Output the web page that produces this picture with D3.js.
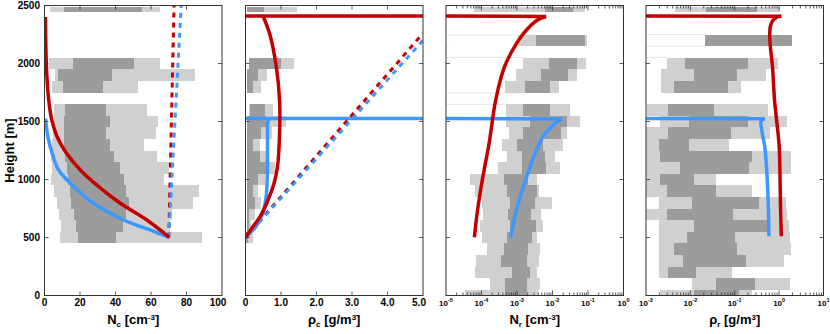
<!DOCTYPE html>
<html>
<head>
<meta charset="utf-8">
<title>Cloud profiles</title>
<script src="https://cdn.jsdelivr.net/npm/d3@7"></script>
<style>
  body { margin: 0; background: #fff; }
  text { font-family: "Liberation Sans", Arial, Helvetica, sans-serif; font-weight: bold; fill: #000; }
</style>
</head>
<body>
<svg width="830" height="334" id="mainsvg"></svg>
<script>
// rows: [bottom m, top m, light low, dark low, dark high, light high]
const ncRows = [
  [2440, 2490, 3, 11, 55, 65],
  [1950, 2050, 2.5, 16, 50.5, 65],
  [1850, 1950, 6, 7.5, 38, 85],
  [1750, 1850, 4.3, 10.3, 33, 52.4],
  [1550, 1650, 5.5, 11.8, 34.8, 57.7],
  [1450, 1550, 5.5, 10.8, 37, 63.7],
  [1350, 1450, 5, 10.8, 34.8, 62.7],
  [1250, 1350, 4, 11, 37, 56.2],
  [1150, 1250, 3.5, 11.8, 39.3, 63.3],
  [1050, 1150, 4.5, 12.4, 42.3, 69.9],
  [950, 1050, 3.4, 13, 44.9, 67.4],
  [850, 950, 5.6, 14.6, 45.7, 87.3],
  [750, 850, 7.2, 15.2, 47.8, 83.5],
  [650, 750, 8, 16.9, 46, 71.7],
  [550, 650, 9.4, 18, 44, 70.8],
  [450, 550, 8.8, 18.7, 40, 88.6]
];
const rhocRows = [
  [2440, 2490, 0.05, 0.05, 0.52, 1.46],
  [1950, 2050, 0.085, 0.085, 0.99, 1.37],
  [1850, 1950, 0.04, 0.04, 0.35, 0.61],
  [1750, 1850, 0.04, 0.04, 0.21, 0.44],
  [1550, 1650, 0.1, 0.13, 0.56, 0.78],
  [1450, 1550, 0.04, 0.04, 0.59, 1.15],
  [1350, 1450, 0.04, 0.04, 0.45, 0.75],
  [1250, 1350, 0.04, 0.04, 0.21, 0.4],
  [1150, 1250, 0.04, 0.04, 0.4, 0.6],
  [1050, 1150, 0.04, 0.04, 0.59, 0.82],
  [950, 1050, 0.04, 0.04, 0.35, 0.55],
  [850, 950, 0.04, 0.04, 0.21, 0.35],
  [750, 850, 0.04, 0.04, 0.27, 0.44],
  [650, 750, 0.04, 0.04, 0.11, 0.28],
  [550, 650, 0.04, 0.04, 0.09, 0.16],
  [450, 550, 0.0, 0.0, 0.07, 0.2]
];
const nrRows = [
  [2440, 2490, 6.3e-5, 6.2e-3, 3.9e-2, 8.3e-2],
  [2150, 2250, 1.1e-3, 3.5e-3, 8.3e-2, 9.3e-2],
  [1950, 2050, 1.5e-3, 7.9e-3, 4.8e-2, 8.7e-2],
  [1850, 1950, 9.3e-4, 4.8e-3, 2.8e-2, 5.0e-2],
  [1750, 1850, 4.6e-4, 1.7e-3, 8.5e-3, 1.55e-2],
  [1550, 1650, 4.8e-4, 1.45e-3, 8.5e-3, 3.2e-2],
  [1450, 1550, 4.8e-4, 2.3e-3, 2.5e-2, 5.8e-2],
  [1350, 1450, 5.8e-4, 1.5e-3, 1.7e-2, 2.6e-2],
  [1250, 1350, 3.9e-4, 9.8e-4, 5.5e-3, 1.95e-2],
  [1150, 1250, 5.1e-4, 1.35e-3, 6.2e-3, 1.2e-2],
  [1050, 1150, 3.0e-4, 1.35e-3, 6.6e-3, 1.6e-2],
  [950, 1050, 4.8e-5, 4.2e-4, 2.1e-3, 3.6e-3],
  [850, 950, 6.6e-5, 5.1e-4, 3.6e-3, 4.3e-3],
  [750, 850, 1.0e-4, 6.3e-4, 3.2e-3, 9.5e-3],
  [650, 750, 1.1e-4, 5.6e-4, 2.5e-3, 4.7e-3],
  [550, 650, 9e-5, 6.3e-4, 3.5e-3, 5.5e-3],
  [450, 550, 1.0e-4, 5.1e-4, 2.6e-3, 3.6e-3],
  [350, 450, 1.4e-4, 4.4e-4, 2.1e-3, 4.5e-3],
  [250, 350, 7.2e-5, 3.5e-4, 1.95e-3, 4.3e-3],
  [150, 250, 6.6e-5, 7.1e-4, 2.3e-3, 3.6e-3],
  [50, 150, 1.7e-4, 4.6e-4, 1.9e-3, 4.5e-3],
  [0, 50, 3.5e-5, 4.6e-4, 1.9e-3, 4.0e-3]
];
const rhorRows = [
  [2440, 2490, 4.4e-3, 2.3e-2, 0.31, 1.07],
  [2150, 2250, 2.1e-2, 2.1e-2, 1.95, 1.95],
  [1950, 2050, 2.9e-3, 7.4e-3, 0.2, 0.93],
  [1850, 1950, 2.2e-3, 1.2e-2, 0.11, 0.5],
  [1750, 1850, 2.2e-3, 4.2e-3, 0.071, 0.135],
  [1550, 1650, 1.05e-3, 3.1e-3, 0.034, 0.56],
  [1450, 1550, 2.1e-3, 9.1e-3, 0.195, 1.5],
  [1350, 1450, 1e-3, 3.1e-3, 0.081, 0.63],
  [1250, 1350, 1e-3, 2e-3, 9.1e-3, 0.076],
  [1150, 1250, 1e-3, 2.1e-3, 0.25, 1.86],
  [1050, 1150, 1e-3, 5.9e-3, 0.21, 1.86],
  [950, 1050, 1e-3, 2.1e-3, 0.012, 0.038],
  [850, 950, 1e-3, 3e-3, 0.038, 0.25],
  [750, 850, 2e-3, 0.011, 0.36, 1.45],
  [650, 750, 1e-3, 2.9e-3, 0.093, 1.5],
  [550, 650, 2e-3, 0.012, 0.56, 1.66],
  [450, 550, 2e-3, 8.3e-3, 0.1, 1.78],
  [350, 450, 2e-3, 4.2e-3, 0.11, 1.82],
  [250, 350, 2e-3, 6.9e-3, 0.18, 1.32],
  [150, 250, 2e-3, 3.1e-3, 0.0135, 0.085],
  [50, 150, 0.011, 0.038, 0.28, 1.78],
  [0, 50, 2.1e-3, 0.012, 0.126, 0.25]
];
// faint edge lines: [height m, right end value]
const nrFaint = [[2245, 1.1e-3], [2145, 1.2e-5], [2052, 1.5e-3], [1745, 4.6e-4], [1648, 4.8e-4]];
const rhorFaint = [[2250, 2.1e-2], [2150, 2.1e-2], [2052, 2.9e-3]];

// profiles: [value, height m]
const ncRed = [[70.4, 500], [57.7, 651], [42.7, 795], [30.5, 938], [20.2, 1082], [12.4, 1226], [7.1, 1369], [4.1, 1513], [2.4, 1681], [1.1, 1968], [0.7, 2200], [0.5, 2400]];
const ncBlue = [[70.4, 500], [59.5, 565], [44.6, 651], [27.7, 795], [16.5, 938], [8, 1082], [4.3, 1226], [1.9, 1369], [0.8, 1490], [0.6, 1525]];
const ncRedDash = [[70, 500], [73, 2500]];
const ncBlueDash = [[70, 500], [77, 2500]];

const rhocRed = [[0, 500], [0.07, 532], [0.2, 589], [0.4, 675], [0.63, 819], [0.8, 963], [0.9, 1106], [0.96, 1394], [0.96, 1681], [0.87, 1968], [0.68, 2256], [0.49, 2412]];
const rhocBlue = [[0, 500], [0.1, 532], [0.28, 589], [0.48, 700], [0.58, 850], [0.61, 1000], [0.62, 1200], [0.62, 1400], [0.63, 1500], [0.68, 1528]];
const rhocRedDash = [[0, 500], [5, 2260]];
const rhocBlueDash = [[0, 500], [5, 2200]];

const nrRed = [[6.3e-5, 502], [7.6e-5, 718], [1.07e-4, 1006], [1.6e-4, 1293], [1.8e-4, 1394], [2.5e-4, 1681], [4.4e-4, 1968], [7.4e-4, 2112], [1.5e-3, 2256], [3.6e-3, 2371], [6.6e-3, 2405]];
const nrBlue = [[6.6e-4, 502], [9.3e-4, 718], [1.26e-3, 862], [1.8e-3, 1006], [2.6e-3, 1150], [4e-3, 1293], [5.6e-3, 1380], [8.9e-3, 1450], [1.3e-2, 1495], [1.8e-2, 1522]];

const rhorRed = [[1.12, 511], [1.07, 800], [1.05, 1000], [1.0, 1293], [0.79, 1681], [0.71, 1968], [0.62, 2198], [0.63, 2313], [0.72, 2371], [0.89, 2400], [1.12, 2408]];
const rhorBlue = [[0.59, 511], [0.56, 868], [0.51, 1150], [0.47, 1293], [0.42, 1394], [0.39, 1500], [0.42, 1515], [0.48, 1523]];

const redTop = 2410;
const blueTop = 1526;

const heightTicks = [0, 500, 1000, 1500, 2000, 2500];
const ncTicks = [0, 20, 40, 60, 80, 100];
const rhocTicks = [0, 1, 2, 3, 4, 5];
const nrTicks = [1e-5, 1e-4, 1e-3, 1e-2, 1e-1, 1];
const rhorTicks = [1e-3, 1e-2, 1e-1, 1, 10];

const RED = '#c30000', BLUE = '#3a98ff', LIGHT = '#d0d0d0', DARK = '#9c9c9c';

const svg = d3.select('#mainsvg');
const yTop = 5.5, yBottom = 295.5, pw = 177.5;
const y = d3.scaleLinear().domain([0, 2500]).range([yBottom, yTop]);

const panels = [
  { x0: 44.5, scale: d3.scaleLinear().domain([0, 100]), ticks: ncTicks, fmt: d => d, rows: ncRows,
    red: ncRed, blue: ncBlue, redDash: ncRedDash, blueDash: ncBlueDash, topSpan: 'none',
    title: [['N'], ['c', 'sub'], [' [cm'], ['-3', 'sup'], [']']] },
  { x0: 245.5, scale: d3.scaleLinear().domain([0, 5]), ticks: rhocTicks, fmt: d => d === 0 ? '0' : d3.format('.1f')(d), rows: rhocRows,
    red: rhocRed, blue: rhocBlue, redDash: rhocRedDash, blueDash: rhocBlueDash, topSpan: 'full',
    title: [['ρ'], ['c', 'sub'], [' [g/m'], ['3', 'sup'], [']']] },
  { x0: 446, scale: d3.scaleLog().domain([1e-5, 1]), ticks: nrTicks, log: true, rows: nrRows, faint: nrFaint,
    red: nrRed, blue: nrBlue, topSpan: 'left',
    title: [['N'], ['r', 'sub'], [' [cm'], ['-3', 'sup'], [']']] },
  { x0: 646, scale: d3.scaleLog().domain([1e-3, 10]), ticks: rhorTicks, log: true, rows: rhorRows, faint: rhorFaint,
    red: rhorRed, blue: rhorBlue, topSpan: 'left',
    title: [['ρ'], ['r', 'sub'], [' [g/m'], ['3', 'sup'], [']']] }
];

function richText(sel, parts, big, small, up) {
  let shift = 0;
  parts.forEach(([t, kind]) => {
    const target = kind === 'sub' ? 3 : kind === 'sup' ? -up : 0;
    sel.append('tspan').attr('dy', target - shift)
      .attr('font-size', kind ? small : big).text(t);
    shift = target;
  });
}

panels.forEach((p, i) => {
  const x = p.scale.range([p.x0, p.x0 + pw]).clamp(true);
  const g = svg.append('g');
  const clipId = 'clip' + i;
  svg.append('clipPath').attr('id', clipId).append('rect')
    .attr('x', p.x0).attr('y', yTop).attr('width', pw).attr('height', yBottom - yTop);
  const body = g.append('g').attr('clip-path', `url(#${clipId})`);

  // bars
  const bars = body.append('g').attr('shape-rendering', 'crispEdges');
  bars.selectAll('.light').data(p.rows).join('rect').attr('class', 'light')
    .attr('x', d => x(d[2])).attr('width', d => Math.max(0, x(d[5]) - x(d[2])))
    .attr('y', d => y(d[1])).attr('height', d => y(d[0]) - y(d[1]))
    .attr('fill', LIGHT);
  bars.selectAll('.dark').data(p.rows).join('rect').attr('class', 'dark')
    .attr('x', d => x(d[3])).attr('width', d => Math.max(0, x(d[4]) - x(d[3])))
    .attr('y', d => y(d[1])).attr('height', d => y(d[0]) - y(d[1]))
    .attr('fill', DARK);
  if (p.faint) {
    body.selectAll('.faint').data(p.faint).join('line').attr('class', 'faint')
      .attr('x1', p.x0).attr('x2', d => x(d[1]))
      .attr('y1', d => y(d[0])).attr('y2', d => y(d[0]))
      .attr('stroke', '#e4e4e4').attr('stroke-width', 1);
  }

  const line = d3.line().x(d => x(d[0])).y(d => y(d[1])).curve(d3.curveCatmullRom.alpha(0.5));
  const straight = d3.line().x(d => x(d[0])).y(d => y(d[1]));

  // cloud-top horizontal segments
  const [xmin, xmax] = p.scale.domain();
  [[p.red, redTop, RED], [p.blue, blueTop, BLUE]].forEach(([prof, h, col]) => {
    if (p.topSpan === 'none') return;
    const last = prof[prof.length - 1];
    const seg = p.topSpan === 'full' ? [[xmin, h], [xmax, h]] : [[last[0], last[1]], [xmin, h]];
    body.append('path').attr('d', straight(seg)).attr('fill', 'none')
      .attr('stroke', col).attr('stroke-width', 3.5);
  });

  if (p.redDash) {
    [[p.redDash, RED], [p.blueDash, BLUE]].forEach(([s, col]) => {
      body.append('path').attr('d', straight(s)).attr('fill', 'none')
        .attr('stroke', col).attr('stroke-width', 3).attr('stroke-dasharray', '5,5');
    });
  }
  [[p.blue, BLUE], [p.red, RED]].forEach(([s, col]) => {
    body.append('path').attr('d', line(s)).attr('fill', 'none')
      .attr('stroke', col).attr('stroke-width', 3.5);
  });

  // frame
  g.append('rect').attr('x', p.x0).attr('y', yTop).attr('width', pw).attr('height', yBottom - yTop)
    .attr('fill', 'none').attr('stroke', '#333').attr('stroke-width', 1);

  // x ticks (inward, top and bottom)
  let tickData;
  if (p.log) {
    tickData = [];
    const lo = Math.log10(xmin), hi = Math.log10(xmax);
    for (let e = lo; e < hi; e++) {
      for (let m = 1; m < 10; m++) tickData.push({ v: m * Math.pow(10, e), len: m === 1 ? 5 : 3 });
    }
    tickData = tickData.filter(d => d.v > xmin);
  } else {
    tickData = p.ticks.slice(1, -1).map(v => ({ v, len: 4 }));
  }
  const tk = g.append('g').attr('stroke', '#333').attr('stroke-width', 0.8);
  tk.selectAll('.tb').data(tickData).join('line').attr('class', 'tb')
    .attr('x1', d => x(d.v)).attr('x2', d => x(d.v)).attr('y1', yBottom).attr('y2', d => yBottom - d.len);
  tk.selectAll('.tt').data(tickData).join('line').attr('class', 'tt')
    .attr('x1', d => x(d.v)).attr('x2', d => x(d.v)).attr('y1', yTop).attr('y2', d => yTop + d.len);
  const yt = heightTicks.slice(1, -1);
  tk.selectAll('.yl').data(yt).join('line').attr('class', 'yl')
    .attr('x1', p.x0).attr('x2', p.x0 + 4).attr('y1', y).attr('y2', y);
  tk.selectAll('.yr').data(yt).join('line').attr('class', 'yr')
    .attr('x1', p.x0 + pw).attr('x2', p.x0 + pw - 4).attr('y1', y).attr('y2', y);

  // x tick labels
  const labs = g.append('g');
  p.ticks.forEach((v, k) => {
    let px = x(v);
    if (!p.log && k === p.ticks.length - 1) px -= 4;
    const t = labs.append('text').attr('x', px).attr('y', 306).attr('text-anchor', 'middle');
    if (p.log) {
      richText(t, [['10'], [String(Math.round(Math.log10(v))), 'sup']], 8, 5.5, 4);
    } else {
      t.attr('font-size', 10).text(p.fmt(v));
    }
  });

  // axis title
  const tt = g.append('text').attr('x', p.x0 + pw / 2).attr('y', 324).attr('text-anchor', 'middle');
  richText(tt, p.title, 13, 8, 4);
});

// height labels on first panel
svg.append('g').selectAll('text').data(heightTicks).join('text')
  .attr('x', 40).attr('y', d => y(d)).attr('dy', '0.35em').attr('text-anchor', 'end')
  .attr('font-size', 10).text(d => d);
svg.append('text').attr('transform', `translate(14,${(yTop + yBottom) / 2}) rotate(-90)`)
  .attr('text-anchor', 'middle').attr('font-size', 13).text('Height [m]');
</script>
</body>
</html>
